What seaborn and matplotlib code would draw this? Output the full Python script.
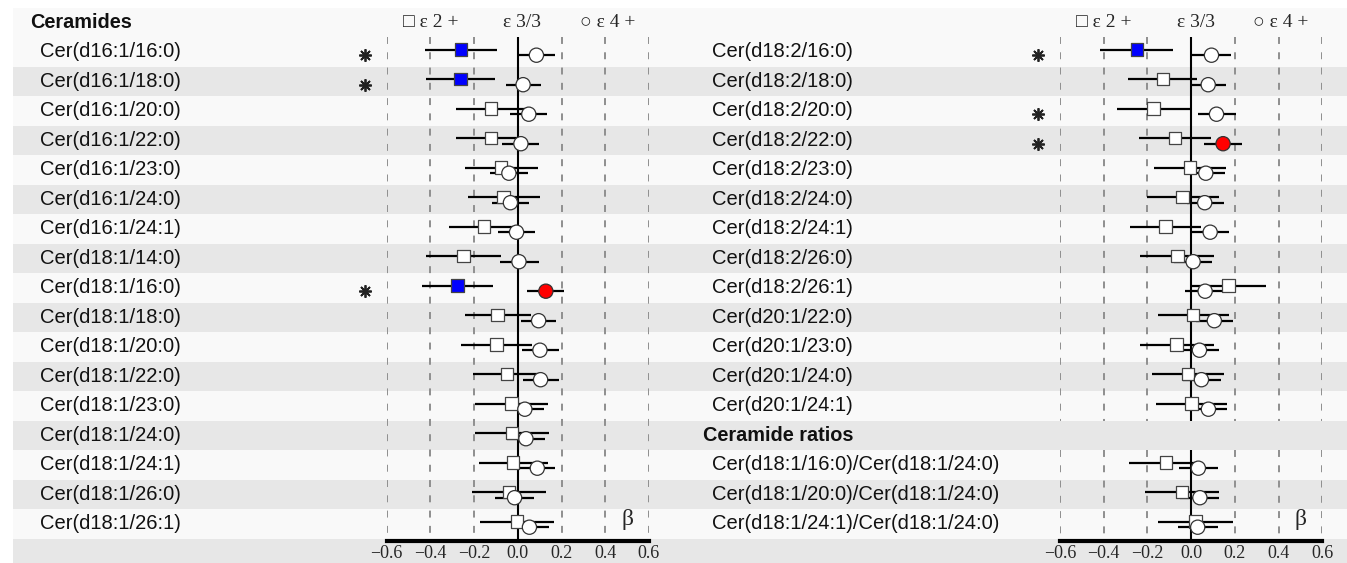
import numpy as np
import pandas as pd
import seaborn as sns
import matplotlib.pyplot as plt
from matplotlib.patches import Rectangle
from matplotlib.transforms import blended_transform_factory

# ---- data (beta and 95% CI) ----
left_labels = ["Cer(d16:1/16:0)", "Cer(d16:1/18:0)", "Cer(d16:1/20:0)", "Cer(d16:1/22:0)",
               "Cer(d16:1/23:0)", "Cer(d16:1/24:0)", "Cer(d16:1/24:1)", "Cer(d18:1/14:0)",
               "Cer(d18:1/16:0)", "Cer(d18:1/18:0)", "Cer(d18:1/20:0)", "Cer(d18:1/22:0)",
               "Cer(d18:1/23:0)", "Cer(d18:1/24:0)", "Cer(d18:1/24:1)", "Cer(d18:1/26:0)",
               "Cer(d18:1/26:1)"]
left_e2 = [-0.26, -0.263, -0.124, -0.124, -0.078, -0.066, -0.154, -0.249, -0.276,
           -0.093, -0.098, -0.05, -0.029, -0.026, -0.021, -0.041, -0.003]
left_e2_lo = [-0.426, -0.418, -0.285, -0.285, -0.244, -0.229, -0.315, -0.42, -0.438,
              -0.244, -0.258, -0.206, -0.198, -0.195, -0.179, -0.212, -0.174]
left_e2_hi = [-0.095, -0.105, 0.043, 0.02, 0.092, 0.101, 0.01, -0.079, -0.115,
              0.061, 0.066, 0.104, 0.136, 0.142, 0.136, 0.131, 0.165]
left_e4 = [0.085, 0.024, 0.05, 0.014, -0.041, -0.034, -0.006, 0.005, 0.128,
           0.095, 0.101, 0.104, 0.032, 0.037, 0.089, -0.015, 0.053]
left_e4_lo = [0.0, -0.056, -0.034, -0.072, -0.128, -0.118, -0.09, -0.082, 0.043,
              0.014, 0.017, 0.023, -0.056, -0.049, 0.005, -0.105, -0.031]
left_e4_hi = [0.172, 0.107, 0.134, 0.099, 0.047, 0.053, 0.079, 0.095, 0.211,
              0.176, 0.186, 0.186, 0.119, 0.122, 0.172, 0.075, 0.142]
left_e2_sig = [1, 1, 0, 0, 0, 0, 0, 0, 1, 0, 0, 0, 0, 0, 0, 0, 0]
left_e4_sig = [0, 0, 0, 0, 0, 0, 0, 0, 1, 0, 0, 0, 0, 0, 0, 0, 0]
left_star = [1, 1, 0, 0, 0, 0, 0, 0, 1, 0, 0, 0, 0, 0, 0, 0, 0]
left_rows = list(range(1, 18))

right_labels = ["Cer(d18:2/16:0)", "Cer(d18:2/18:0)", "Cer(d18:2/20:0)", "Cer(d18:2/22:0)",
                "Cer(d18:2/23:0)", "Cer(d18:2/24:0)", "Cer(d18:2/24:1)", "Cer(d18:2/26:0)",
                "Cer(d18:2/26:1)", "Cer(d20:1/22:0)", "Cer(d20:1/23:0)", "Cer(d20:1/24:0)",
                "Cer(d20:1/24:1)",
                "Cer(d18:1/16:0)/Cer(d18:1/24:0)", "Cer(d18:1/20:0)/Cer(d18:1/24:0)",
                "Cer(d18:1/24:1)/Cer(d18:1/24:0)"]
right_e2 = [-0.249, -0.129, -0.172, -0.074, -0.006, -0.04, -0.117, -0.062, 0.17,
            0.009, -0.067, -0.015, 0.002, -0.114, -0.041, 0.02]
right_e2_lo = [-0.416, -0.289, -0.339, -0.24, -0.172, -0.202, -0.28, -0.234, -0.003,
               -0.152, -0.234, -0.179, -0.16, -0.283, -0.21, -0.152]
right_e2_hi = [-0.084, 0.027, -0.003, 0.09, 0.161, 0.126, 0.047, 0.106, 0.342,
               0.172, 0.103, 0.152, 0.166, 0.05, 0.129, 0.191]
right_e4 = [0.093, 0.078, 0.116, 0.146, 0.067, 0.062, 0.087, 0.009, 0.064,
            0.106, 0.038, 0.047, 0.079, 0.033, 0.04, 0.03]
right_e4_lo = [0.005, -0.006, 0.03, 0.061, -0.018, -0.021, 0.005, -0.079, -0.026,
               0.02, -0.049, -0.038, -0.006, -0.055, -0.049, -0.058]
right_e4_hi = [0.181, 0.161, 0.204, 0.233, 0.153, 0.149, 0.173, 0.097, 0.149,
               0.191, 0.126, 0.137, 0.166, 0.122, 0.129, 0.122]
right_e2_sig = [1, 0, 0, 0, 0, 0, 0, 0, 0, 0, 0, 0, 0, 0, 0, 0]
right_e4_sig = [0, 0, 0, 1, 0, 0, 0, 0, 0, 0, 0, 0, 0, 0, 0, 0]
right_star = [1, 0, 1, 1, 0, 0, 0, 0, 0, 0, 0, 0, 0, 0, 0, 0]
right_rows = list(range(1, 14)) + [15, 16, 17]

ticks = [-0.6, -0.4, -0.2, 0.0, 0.2, 0.4, 0.6]
tick_labels = ["\u22120.6", "\u22120.4", "\u22120.2", "0.0", "0.2", "0.4", "0.6"]

# ---- layout ----
sns.set_style("white")
plt.rcParams['font.family'] = ['Liberation Sans', 'DejaVu Sans']
plt.rcParams['lines.scale_dashes'] = False

W, H = 1347, 563
TOP, ROW_H, AXIS_Y = 7.7, 29.5, 541
n_rows_lim = -0.5 + (AXIS_Y - TOP) / ROW_H

fig = plt.figure(figsize=(W / 100, H / 100), dpi=100)
fig.patch.set_facecolor("white")

serif = ['Liberation Serif', 'DejaVu Serif']


def make_ax(x0, x1):
    ax = fig.add_axes([x0 / W, (H - AXIS_Y) / H, (x1 - x0) / W, (AXIS_Y - TOP) / H])
    ax.set_facecolor("none")
    ax.set_xlim(-0.6, 0.6)
    ax.set_ylim(n_rows_lim, -0.5)
    for s in ["top", "left", "right"]:
        ax.spines[s].set_visible(False)
    ax.spines["bottom"].set_linewidth(3)
    ax.spines["bottom"].set_color("black")
    ax.set_yticks([])
    ax.set_xticks(ticks)
    ax.set_xticklabels(tick_labels, family=serif, fontsize=13)
    ax.tick_params(axis="x", length=0, pad=3)
    return ax


ax_l = make_ax(386.7, 649)
ax_r = make_ax(1060, 1322.3)

# alternating row bands across the whole figure
band_tr = blended_transform_factory(fig.transFigure, ax_l.transData)
for i in range(19):
    col = "#e7e7e7" if (i % 2 == 0 and i > 0) else "#f9f9f9"
    fig.add_artist(Rectangle((13 / W, i - 0.5), 1 - 13 / W, 1, transform=band_tr,
                             facecolor=col, edgecolor="none", zorder=-10))


def draw_panel(ax, rows, labels, e2, e2lo, e2hi, e4, e4lo, e4hi, e2sig, e4sig, star,
               segments, label_x):
    # reference lines
    for y0, y1 in segments:
        ax.vlines(0, y0, y1, color="black", lw=1.5, zorder=2)
        for t in [-0.6, -0.4, -0.2, 0.2, 0.4, 0.6]:
            ax.vlines(t, y0, y1, color="#8f8f8f", lw=1.4, linestyles=(0, (5, 6)), zorder=1)

    rows = np.array(rows, dtype=float)
    ysq = rows - 0.08
    yci = rows + 0.11
    ax.hlines(ysq, e2lo, e2hi, color="black", lw=1.6, zorder=3)
    ax.hlines(yci, e4lo, e4hi, color="black", lw=1.6, zorder=3)

    d2 = pd.DataFrame({"beta": e2, "y": ysq, "sig": ["s" if v else "n" for v in e2sig]})
    d4 = pd.DataFrame({"beta": e4, "y": yci, "sig": ["s" if v else "n" for v in e4sig]})
    sns.scatterplot(data=d2, x="beta", y="y", hue="sig", palette={"s": "#0000ff", "n": "white"},
                    marker="s", s=80, edgecolor="#444444", linewidth=0.9, legend=False,
                    ax=ax, zorder=4)
    sns.scatterplot(data=d4, x="beta", y="y", hue="sig", palette={"s": "#ff0000", "n": "white"},
                    marker="o", s=105, edgecolor="#333333", linewidth=0.9, legend=False,
                    ax=ax, zorder=5)

    for r, st in zip(rows, star):
        if st:
            ax.plot([-0.70], [r + 0.12], marker=(8, 2, 0), markersize=9, mew=1.3,
                    color="#222222", clip_on=False, zorder=5)

    lab_tr = blended_transform_factory(fig.transFigure, ax.transData)
    for r, lab in zip(rows, labels):
        ax.text(label_x / W, r, lab, transform=lab_tr, ha="left", va="center",
                fontsize=14.5, color="#111111")

    ax.text(-0.40, 0, "\u25a1 \u03b5 2 +", ha="center", va="center", fontsize=14, family=serif)
    ax.text(0.02, 0, "\u03b5 3/3", ha="center", va="center", fontsize=14, family=serif)
    ax.text(0.41, 0, "\u25cb \u03b5 4 +", ha="center", va="center", fontsize=14, family=serif)
    ax.text(0.50, 16.85, "\u03b2", ha="center", va="center", fontsize=17, family=serif)
    ax.set_xlabel("")
    ax.set_ylabel("")


draw_panel(ax_l, left_rows, left_labels, left_e2, left_e2_lo, left_e2_hi,
           left_e4, left_e4_lo, left_e4_hi, left_e2_sig, left_e4_sig, left_star,
           [(0.5, n_rows_lim)], 40)
draw_panel(ax_r, right_rows, right_labels, right_e2, right_e2_lo, right_e2_hi,
           right_e4, right_e4_lo, right_e4_hi, right_e2_sig, right_e4_sig, right_star,
           [(0.5, 13.5), (14.5, n_rows_lim)], 712)

hdr_tr = blended_transform_factory(fig.transFigure, ax_l.transData)
fig.text(30 / W, 0, "Ceramides", transform=hdr_tr, ha="left", va="center",
         fontsize=14.3, fontweight="bold", color="#111111")
fig.text(703 / W, 14, "Ceramide ratios", transform=hdr_tr, ha="left", va="center",
         fontsize=14.3, fontweight="bold", color="#111111")

fig.savefig("out.png", dpi=100)
